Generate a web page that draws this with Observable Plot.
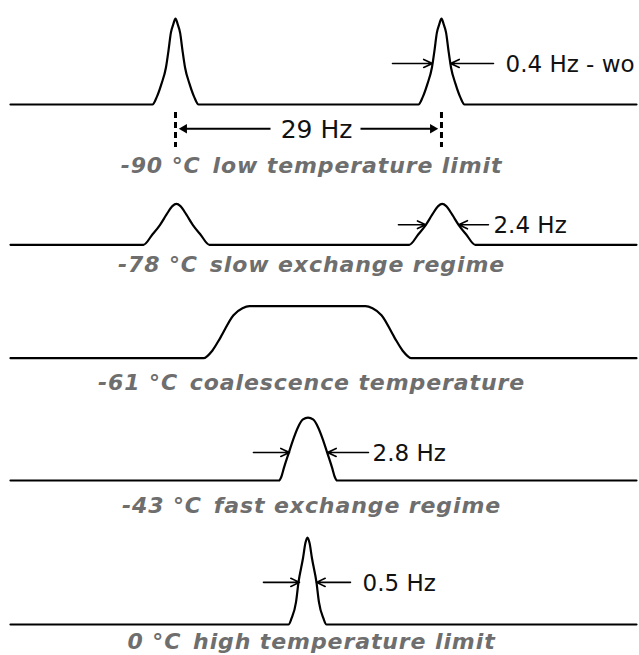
<!DOCTYPE html>
<html><head><meta charset="utf-8">
<script src="https://cdn.jsdelivr.net/npm/d3@7"></script>
<script src="https://cdn.jsdelivr.net/npm/@observablehq/plot@0.6"></script>
<style>html,body{margin:0;padding:0;background:#fff;} #chart{width:639px;height:655px;overflow:hidden}</style>
</head><body><div id="chart"></div>
<script>
// ---- data (frequency in Hz relative to the spectrum centre, relative intensity) ----
const temperatures = ["-90 °C", "-78 °C", "-61 °C", "-43 °C", "0 °C"];
const regimes = ["low temperature limit", "slow exchange regime", "coalescence temperature", "fast exchange regime", "high temperature limit"];

const spectrumM90 = [[-32.49,0],[-17.01,0],[-16.57,0.08],[-16.03,0.24],[-15.54,0.43],[-15.26,0.63],[-15.01,0.83],[-14.72,0.94],[-14.5,1.0],[-14.28,0.94],[-13.99,0.83],[-13.74,0.63],[-13.46,0.43],[-12.97,0.24],[-12.43,0.08],[-11.99,0],
  [11.99,0],[12.43,0.08],[12.97,0.24],[13.46,0.43],[13.74,0.63],[13.99,0.83],[14.28,0.94],[14.5,1.0],[14.72,0.94],[15.01,0.83],[15.26,0.63],[15.54,0.43],[16.03,0.24],[16.57,0.08],[17.01,0],[35.76,0]];
const spectrumM78 = [[-32.49,0],[-18.0,0],[-17.02,0.12],[-16.2,0.23],[-15.49,0.35],[-14.84,0.45],[-14.4,0.475],[-13.96,0.45],[-13.31,0.35],[-12.6,0.23],[-11.78,0.12],[-10.8,0],
  [10.98,0],[11.96,0.12],[12.78,0.23],[13.49,0.35],[14.14,0.45],[14.58,0.475],[15.02,0.45],[15.67,0.35],[16.38,0.23],[17.2,0.12],[18.18,0],[35.76,0]];
const spectrumM61 = [[-32.49,0],[-11.45,0],[-10.47,0.09],[-9.6,0.24],[-8.18,0.5],[-7.2,0.58],[-6.43,0.605],[6.21,0.605],[6.98,0.58],[7.96,0.5],[9.38,0.24],[10.25,0.09],[11.23,0],[35.76,0]];
const spectrumM43 = [[-32.49,0],[-3.21,0],[-2.99,0.035],[-2.67,0.15],[-2.12,0.33],[-1.69,0.47],[-1.14,0.62],[-0.6,0.71],[-0.05,0.73],[0.5,0.71],[1.04,0.62],[1.59,0.47],[2.02,0.33],[2.57,0.15],[2.89,0.035],[3.11,0],[35.76,0]];
const spectrum0 = [[-32.49,0],[-2.18,0],[-1.85,0.07],[-1.36,0.26],[-1.09,0.49],[-0.6,0.77],[-0.33,0.95],[-0.11,1.01],[0.11,0.95],[0.38,0.77],[0.87,0.49],[1.14,0.26],[1.63,0.07],[1.96,0],[35.76,0]];
const spectra = [spectrumM90, spectrumM78, spectrumM61, spectrumM43, spectrum0];

// line-width markers: trace, height, left tail, left head, right head, right tail, label start, label
const widthTrace = [0, 1, 3, 4];
const widthHeight = [0.477, 0.233, 0.326, 0.49];
const widthLeftTail = [9.16, 9.81, -6.0, -4.91];
const widthLeftHead = [13.51, 12.78, -2.07, -0.98];
const widthRightHead = [15.49, 16.38, 2.07, 0.87];
const widthRightTail = [20.17, 19.62, 6.54, 4.58];
const widthTextStart = [21.48, 20.17, 6.98, 5.89];
const widthLabels = ["0.4 Hz - wo", "2.4 Hz", "2.8 Hz", "0.5 Hz"];

// peak separation at -90 °C
const separationPeaks = [-14.5, 14.5];
const separationLabel = "29 Hz";

// ---- layout (pixel geometry only) ----
const W = 639, H = 655, UNIT = 86;
const baselinePx = [104, 244.3, 357.7, 480, 624];
const base = baselinePx.map(p => (H - p) / UNIT);
const labelPx = [165, 264, 382, 505, 641];
const labelY = labelPx.map(p => (H - p) / UNIT);
const labelX = 0.33;

const rows = spectra.flatMap((s, i) => s.map(([x, v]) => ({trace: i, x, y: base[i] + v})));

const arrows = widthTrace.flatMap((t, i) => [
  {x1: widthLeftTail[i], x2: widthLeftHead[i], y: base[t] + widthHeight[i]},
  {x1: widthRightTail[i], x2: widthRightHead[i], y: base[t] + widthHeight[i]}
]);
const arrowText = widthTrace.map((t, i) => ({x: widthTextStart[i], y: base[t] + widthHeight[i], text: widthLabels[i]}));

const sepY = base[0] - 0.283;
const sepLinks = [
  {x1: -4.14, x2: separationPeaks[0] + 1.1},
  {x1: 5.67, x2: separationPeaks[1] - 1.1}
];
const sepHeads = [
  {x: separationPeaks[0] + 0.95, rot: -90},
  {x: separationPeaks[1] - 0.95, rot: 90}
];

const labels = temperatures.map((t, i) => ({x: labelX, y: labelY[i], text: t + "\u2002" + regimes[i]}));

const chart = Plot.plot({
  width: W, height: H,
  marginTop: 0, marginRight: 0, marginBottom: 0, marginLeft: 0,
  style: {background: "white", overflow: "visible"},
  x: {domain: [-33.58, 36.09], axis: null},
  y: {domain: [0, H / UNIT], axis: null},
  marks: [
    Plot.line(rows, {x: "x", y: "y", z: "trace", stroke: "#000", strokeWidth: 2.2, curve: "monotone-x"}),
    Plot.arrow(arrows, {x1: "x1", x2: "x2", y1: "y", y2: "y", stroke: "#000", strokeWidth: 1.6, headLength: 9, headAngle: 50}),
    Plot.text(arrowText, {x: "x", y: "y", text: "text", textAnchor: "start", fontSize: 23, fontFamily: "DejaVu Sans", fill: "#111", dy: 1}),
    Plot.ruleX(separationPeaks, {x: d => d, y1: base[0] - 0.093, y2: base[0] - 0.5, stroke: "#000", strokeWidth: 3, strokeDasharray: "6,4"}),
    Plot.link(sepLinks, {x1: "x1", x2: "x2", y1: sepY, y2: sepY, stroke: "#000", strokeWidth: 2}),
    Plot.dot(sepHeads, {x: "x", y: sepY, symbol: "triangle2", r: 4.5, fill: "#000", rotate: "rot"}),
    Plot.text([separationLabel], {x: 0.87, y: sepY, text: d => d, fontSize: 25, fontFamily: "DejaVu Sans", fill: "#111", dy: 1}),
    Plot.text(labels, {x: "x", y: "y", text: "text", fontSize: 22, fontFamily: "DejaVu Sans", fontWeight: "bold", fontStyle: "italic", fill: "#6e6e6e"})
  ]
});
const textGroups = chart.querySelectorAll('g[aria-label="text"]');
textGroups[textGroups.length - 1].setAttribute("letter-spacing", "0.9");
document.getElementById("chart").appendChild(chart);
</script></body></html>
